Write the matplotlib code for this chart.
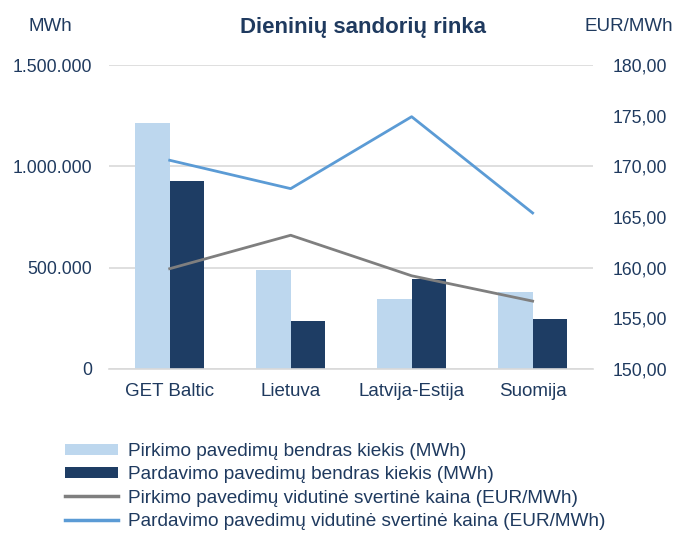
import matplotlib
matplotlib.use("Agg")
import matplotlib.pyplot as plt
import numpy as np
from matplotlib.patches import Patch
from matplotlib.lines import Line2D

categories = ["GET Baltic", "Lietuva", "Latvija-Estija", "Suomija"]
pirkimo_kiekis = [1215000, 489000, 347000, 378000]
pardavimo_kiekis = [928000, 237000, 443000, 247000]
pirkimo_kaina = [159.9, 163.2, 159.2, 156.7]
pardavimo_kaina = [170.6, 167.8, 174.9, 165.4]

left_ticks = [0, 500000, 1000000, 1500000]
left_labels = ["0", "500.000", "1.000.000", "1.500.000"]
right_ticks = [150, 155, 160, 165, 170, 175, 180]
right_labels = ["150,00", "155,00", "160,00", "165,00", "170,00", "175,00", "180,00"]

legend_labels = [
    "Pirkimo pavedimų bendras kiekis (MWh)",
    "Pardavimo pavedimų bendras kiekis (MWh)",
    "Pirkimo pavedimų vidutinė svertinė kaina (EUR/MWh)",
    "Pardavimo pavedimų vidutinė svertinė kaina (EUR/MWh)",
]

plt.rcParams['font.family'] = ['Liberation Sans', 'DejaVu Sans']
txt = "#1F3A5F"
c_light = "#BDD7EE"
c_dark = "#1E3D64"
c_gray = "#7F7F7F"
c_blue = "#5B9BD5"

fig = plt.figure(figsize=(6.74, 5.33), dpi=100)
ax = fig.add_axes([0.162, 0.3077, 0.718, 0.5703])
ax2 = ax.twinx()

x = np.arange(len(categories))
w = 0.285
ax.bar(x - w/2, pirkimo_kiekis, width=w, color=c_light, zorder=2)
ax.bar(x + w/2, pardavimo_kiekis, width=w, color=c_dark, zorder=2)
ax.set_ylim(0, 1500000)
ax.set_xlim(-0.5, len(categories) - 0.5)
ax.set_yticks(left_ticks)
ax.set_yticklabels(left_labels)
ax.set_xticks(x)
ax.set_xticklabels(categories)
ax.grid(axis='y', color="#D9D9D9", linewidth=1.2, zorder=0)
ax.set_axisbelow(True)
for s in ["top", "right", "left"]:
    ax.spines[s].set_visible(False)
ax.spines["bottom"].set_color("#D9D9D9")
ax.spines["bottom"].set_linewidth(1.2)
ax.tick_params(axis='y', length=0, colors=txt, labelsize=12.7, pad=12)
ax.tick_params(axis='x', length=0, colors=txt, labelsize=13.5, pad=10)

ax2.plot(x, pirkimo_kaina, color=c_gray, linewidth=2)
ax2.plot(x, pardavimo_kaina, color=c_blue, linewidth=2)
ax2.set_ylim(150, 180)
ax2.set_yticks(right_ticks)
ax2.set_yticklabels(right_labels)
for s in ["top", "right", "left", "bottom"]:
    ax2.spines[s].set_visible(False)
ax2.tick_params(axis='y', length=0, colors=txt, labelsize=12.7, pad=14)

fig.text(0.539, 0.949, "Dieninių sandorių rinka", ha='center', va='center',
         fontsize=16, fontweight='bold', color=txt)
fig.text(0.042, 0.951, "MWh", ha='left', va='center', fontsize=13.5, color=txt)
fig.text(0.999, 0.951, "EUR/MWh", ha='right', va='center', fontsize=13.5, color=txt)

handles = [
    Patch(facecolor=c_light, edgecolor='none'),
    Patch(facecolor=c_dark, edgecolor='none'),
    Line2D([0], [0], color=c_gray, linewidth=2.5),
    Line2D([0], [0], color=c_blue, linewidth=2.5),
]
leg = fig.legend(handles, legend_labels, loc='upper left', bbox_to_anchor=(0.085, 0.183),
                 frameon=False, fontsize=13.7, handlelength=2.8, handleheight=0.55,
                 labelspacing=0.33, handletextpad=0.53, borderaxespad=0)
for t in leg.get_texts():
    t.set_color(txt)

fig.savefig("out.png", dpi=100)
